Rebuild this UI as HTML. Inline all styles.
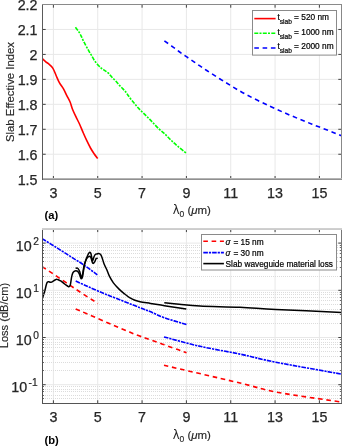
<!DOCTYPE html>
<html><head><meta charset="utf-8"><style>
html,body{margin:0;padding:0;background:#fff;overflow:hidden;}
svg{display:block;}
text{font-family:'Liberation Sans', Arial, Helvetica, sans-serif;fill:#262626;}
.tk{font-size:14.3px;stroke:#262626;stroke-width:0.25px;}
.tk.sp{font-size:10.2px;stroke-width:0.2px;}
.lb1{font-size:11.35px !important;}
.lb{font-size:11.1px;stroke:#262626;stroke-width:0.15px;}
.xl{font-size:11.5px;stroke:#262626;stroke-width:0.15px;}
.ab{font-size:11.2px;font-weight:bold;fill:#000;}
.lg{font-size:8.3px;fill:#000;stroke:#000;stroke-width:0.2px;}
.gr{font-family:'DejaVu Sans','Liberation Serif',serif;stroke-width:0;}
.gri{font-family:'Liberation Sans',sans-serif;font-style:italic;}
</style></head><body>
<svg width="342" height="447" viewBox="0 0 342 447">
<rect width="342" height="447" fill="#fff"/>
<line x1="53.40" y1="4.50" x2="53.40" y2="179.20" stroke="#e8e8e8"/>
<line x1="97.73" y1="4.50" x2="97.73" y2="179.20" stroke="#e8e8e8"/>
<line x1="142.07" y1="4.50" x2="142.07" y2="179.20" stroke="#e8e8e8"/>
<line x1="186.40" y1="4.50" x2="186.40" y2="179.20" stroke="#e8e8e8"/>
<line x1="230.74" y1="4.50" x2="230.74" y2="179.20" stroke="#e8e8e8"/>
<line x1="275.07" y1="4.50" x2="275.07" y2="179.20" stroke="#e8e8e8"/>
<line x1="319.40" y1="4.50" x2="319.40" y2="179.20" stroke="#e8e8e8"/>
<line x1="42.50" y1="29.46" x2="341.50" y2="29.46" stroke="#e8e8e8"/>
<line x1="42.50" y1="54.41" x2="341.50" y2="54.41" stroke="#e8e8e8"/>
<line x1="42.50" y1="79.37" x2="341.50" y2="79.37" stroke="#e8e8e8"/>
<line x1="42.50" y1="104.33" x2="341.50" y2="104.33" stroke="#e8e8e8"/>
<line x1="42.50" y1="129.29" x2="341.50" y2="129.29" stroke="#e8e8e8"/>
<line x1="42.50" y1="154.24" x2="341.50" y2="154.24" stroke="#e8e8e8"/>
<defs><clipPath id="ct"><rect x="42" y="4" width="300" height="176"/></clipPath><clipPath id="cb"><rect x="42" y="228" width="300" height="176"/></clipPath></defs>
<g clip-path="url(#ct)">
<path d="M42.40,58.70 C42.97,59.22 44.85,61.02 45.80,61.80 C46.75,62.58 46.93,62.35 48.10,63.40 C49.27,64.45 51.47,66.08 52.80,68.10 C54.13,70.12 54.98,73.03 56.10,75.50 C57.22,77.97 58.27,80.67 59.50,82.90 C60.73,85.13 62.28,86.78 63.50,88.90 C64.72,91.02 65.68,93.37 66.80,95.60 C67.92,97.83 69.28,100.12 70.20,102.30 C71.12,104.48 71.35,106.30 72.30,108.70 C73.25,111.10 74.70,114.15 75.90,116.70 C77.10,119.25 78.28,121.33 79.50,124.00 C80.72,126.67 81.98,129.92 83.20,132.70 C84.42,135.48 85.58,138.15 86.80,140.70 C88.02,143.25 89.28,145.82 90.50,148.00 C91.72,150.18 92.90,152.05 94.10,153.80 C95.30,155.55 97.10,157.72 97.70,158.50" fill="none" stroke="#ff0000" stroke-width="1.6" stroke-linejoin="round"/>
<path d="M75.40,27.30 C76.00,28.10 78.03,30.63 79.00,32.10 C79.97,33.57 80.47,34.62 81.20,36.10 C81.93,37.58 82.58,39.35 83.40,41.00 C84.22,42.65 85.20,44.35 86.10,46.00 C87.00,47.65 87.90,49.33 88.80,50.90 C89.70,52.47 90.55,53.78 91.50,55.40 C92.45,57.02 93.38,58.97 94.50,60.60 C95.62,62.23 97.00,63.88 98.20,65.20 C99.40,66.52 100.53,67.57 101.70,68.50 C102.87,69.43 104.03,69.98 105.20,70.80 C106.37,71.62 107.53,72.28 108.70,73.40 C109.87,74.52 111.03,76.23 112.20,77.50 C113.37,78.77 114.53,79.73 115.70,81.00 C116.87,82.27 118.03,83.83 119.20,85.10 C120.37,86.37 121.52,87.33 122.70,88.60 C123.88,89.87 125.38,91.55 126.30,92.70 C127.22,93.85 127.30,94.25 128.20,95.50 C129.10,96.75 130.53,98.73 131.70,100.20 C132.87,101.67 134.03,102.93 135.20,104.30 C136.37,105.67 137.33,106.93 138.70,108.40 C140.07,109.87 141.83,111.55 143.40,113.10 C144.97,114.65 146.55,116.15 148.10,117.70 C149.65,119.25 150.85,120.48 152.70,122.40 C154.55,124.32 157.12,127.22 159.20,129.20 C161.28,131.18 163.17,132.42 165.20,134.30 C167.23,136.18 169.35,138.53 171.40,140.50 C173.45,142.47 175.02,143.98 177.50,146.10 C179.98,148.22 184.83,152.02 186.30,153.20" fill="none" stroke="#00ff00" stroke-width="1.6" stroke-dasharray="4 1.2 2 1.3"/>
<path d="M164.40,40.80 C165.73,41.77 169.97,44.82 172.40,46.60 C174.83,48.38 176.80,49.90 179.00,51.50 C181.20,53.10 183.28,54.60 185.60,56.20 C187.92,57.80 190.58,59.52 192.90,61.10 C195.22,62.68 197.18,64.13 199.50,65.70 C201.82,67.27 202.47,67.72 206.80,70.50 C211.13,73.28 218.98,78.42 225.50,82.40 C232.02,86.38 238.48,90.42 245.90,94.40 C253.32,98.38 262.48,102.77 270.00,106.30 C277.52,109.83 283.98,112.62 291.00,115.60 C298.02,118.58 305.07,121.40 312.10,124.20 C319.13,127.00 328.28,130.45 333.20,132.40 C338.12,134.35 340.20,135.32 341.60,135.90" fill="none" stroke="#0000ff" stroke-width="1.6" stroke-dasharray="4.6 3.7"/>
</g>
<line x1="53.40" y1="179.20" x2="53.40" y2="176.00" stroke="#404040"/>
<line x1="53.40" y1="4.50" x2="53.40" y2="7.70" stroke="#404040"/>
<line x1="97.73" y1="179.20" x2="97.73" y2="176.00" stroke="#404040"/>
<line x1="97.73" y1="4.50" x2="97.73" y2="7.70" stroke="#404040"/>
<line x1="142.07" y1="179.20" x2="142.07" y2="176.00" stroke="#404040"/>
<line x1="142.07" y1="4.50" x2="142.07" y2="7.70" stroke="#404040"/>
<line x1="186.40" y1="179.20" x2="186.40" y2="176.00" stroke="#404040"/>
<line x1="186.40" y1="4.50" x2="186.40" y2="7.70" stroke="#404040"/>
<line x1="230.74" y1="179.20" x2="230.74" y2="176.00" stroke="#404040"/>
<line x1="230.74" y1="4.50" x2="230.74" y2="7.70" stroke="#404040"/>
<line x1="275.07" y1="179.20" x2="275.07" y2="176.00" stroke="#404040"/>
<line x1="275.07" y1="4.50" x2="275.07" y2="7.70" stroke="#404040"/>
<line x1="319.40" y1="179.20" x2="319.40" y2="176.00" stroke="#404040"/>
<line x1="319.40" y1="4.50" x2="319.40" y2="7.70" stroke="#404040"/>
<line x1="42.50" y1="29.46" x2="45.70" y2="29.46" stroke="#404040"/>
<line x1="341.50" y1="29.46" x2="338.30" y2="29.46" stroke="#404040"/>
<line x1="42.50" y1="54.41" x2="45.70" y2="54.41" stroke="#404040"/>
<line x1="341.50" y1="54.41" x2="338.30" y2="54.41" stroke="#404040"/>
<line x1="42.50" y1="79.37" x2="45.70" y2="79.37" stroke="#404040"/>
<line x1="341.50" y1="79.37" x2="338.30" y2="79.37" stroke="#404040"/>
<line x1="42.50" y1="104.33" x2="45.70" y2="104.33" stroke="#404040"/>
<line x1="341.50" y1="104.33" x2="338.30" y2="104.33" stroke="#404040"/>
<line x1="42.50" y1="129.29" x2="45.70" y2="129.29" stroke="#404040"/>
<line x1="341.50" y1="129.29" x2="338.30" y2="129.29" stroke="#404040"/>
<line x1="42.50" y1="154.24" x2="45.70" y2="154.24" stroke="#404040"/>
<line x1="341.50" y1="154.24" x2="338.30" y2="154.24" stroke="#404040"/>
<line x1="42.50" y1="4.00" x2="42.50" y2="180.00" stroke="#5a5a5a" shape-rendering="crispEdges"/>
<line x1="341.50" y1="4.00" x2="341.50" y2="180.00" stroke="#888888" shape-rendering="crispEdges"/>
<line x1="42.00" y1="4.50" x2="342.00" y2="4.50" stroke="#8a8a8a" shape-rendering="crispEdges"/>
<line x1="42.00" y1="178.50" x2="342.00" y2="178.50" stroke="#b4b4b4" shape-rendering="crispEdges"/>
<line x1="42.00" y1="179.50" x2="342.00" y2="179.50" stroke="#909090" shape-rendering="crispEdges"/>
<line x1="42.50" y1="178.00" x2="42.50" y2="180.00" stroke="#5a5a5a" shape-rendering="crispEdges"/>
<text x="37.5" y="9.80" text-anchor="end" class="tk">2.2</text>
<text x="37.5" y="34.76" text-anchor="end" class="tk">2.1</text>
<text x="37.5" y="59.71" text-anchor="end" class="tk">2</text>
<text x="37.5" y="84.67" text-anchor="end" class="tk">1.9</text>
<text x="37.5" y="109.63" text-anchor="end" class="tk">1.8</text>
<text x="37.5" y="134.59" text-anchor="end" class="tk">1.7</text>
<text x="37.5" y="159.54" text-anchor="end" class="tk">1.6</text>
<text x="37.5" y="184.50" text-anchor="end" class="tk">1.5</text>
<text x="53.40" y="197.80" text-anchor="middle" class="tk">3</text>
<text x="97.73" y="197.80" text-anchor="middle" class="tk">5</text>
<text x="142.07" y="197.80" text-anchor="middle" class="tk">7</text>
<text x="186.40" y="197.80" text-anchor="middle" class="tk">9</text>
<text x="230.74" y="197.80" text-anchor="middle" class="tk">11</text>
<text x="275.07" y="197.80" text-anchor="middle" class="tk">13</text>
<text x="319.40" y="197.80" text-anchor="middle" class="tk">15</text>
<text transform="translate(14.3,92) rotate(-90)" text-anchor="middle" class="lb lb1">Slab Effective Index</text>
<text x="44.6" y="219.2" class="ab">(a)</text>
<text x="191.8" y="213.7" text-anchor="middle" class="xl"><tspan class="gr">λ</tspan><tspan font-size="8.5" dy="3.2">0</tspan><tspan dy="-3.2"> (</tspan><tspan class="gri">μ</tspan>m)</text>
<rect x="252.5" y="10.5" width="84" height="44.6" fill="#fff" stroke="#8a8a8a" stroke-width="1"/>
<line x1="254.3" y1="18.6" x2="275.6" y2="18.6" stroke="#ff0000" stroke-width="1.6"/>
<text x="277.4" y="19.9" class="lg">t<tspan font-size="6.6" dy="4.1">slab</tspan><tspan dy="-4.1"> = 520 nm</tspan></text>
<line x1="254.3" y1="33.3" x2="275.6" y2="33.3" stroke="#00ff00" stroke-width="1.6" stroke-dasharray="4 1.2 2 1.3"/>
<text x="277.4" y="34.6" class="lg">t<tspan font-size="6.6" dy="4.1">slab</tspan><tspan dy="-4.1"> = 1000 nm</tspan></text>
<line x1="254.3" y1="48.0" x2="275.6" y2="48.0" stroke="#0000ff" stroke-width="1.6" stroke-dasharray="4.6 3.7"/>
<text x="277.4" y="49.3" class="lg">t<tspan font-size="6.6" dy="4.1">slab</tspan><tspan dy="-4.1"> = 2000 nm</tspan></text>
<line x1="53.40" y1="228.89" x2="53.40" y2="403.48" stroke="#e8e8e8"/>
<line x1="97.73" y1="228.89" x2="97.73" y2="403.48" stroke="#e8e8e8"/>
<line x1="142.07" y1="228.89" x2="142.07" y2="403.48" stroke="#e8e8e8"/>
<line x1="186.40" y1="228.89" x2="186.40" y2="403.48" stroke="#e8e8e8"/>
<line x1="230.74" y1="228.89" x2="230.74" y2="403.48" stroke="#e8e8e8"/>
<line x1="275.07" y1="228.89" x2="275.07" y2="403.48" stroke="#e8e8e8"/>
<line x1="319.40" y1="228.89" x2="319.40" y2="403.48" stroke="#e8e8e8"/>
<line x1="42.50" y1="403.50" x2="341.50" y2="403.50" stroke="#dcdcdc" shape-rendering="crispEdges" stroke-dasharray="1 1"/>
<line x1="42.50" y1="398.50" x2="341.50" y2="398.50" stroke="#dcdcdc" shape-rendering="crispEdges" stroke-dasharray="1 1"/>
<line x1="42.50" y1="395.50" x2="341.50" y2="395.50" stroke="#dcdcdc" shape-rendering="crispEdges" stroke-dasharray="1 1"/>
<line x1="42.50" y1="391.50" x2="341.50" y2="391.50" stroke="#dcdcdc" shape-rendering="crispEdges" stroke-dasharray="1 1"/>
<line x1="42.50" y1="389.50" x2="341.50" y2="389.50" stroke="#dcdcdc" shape-rendering="crispEdges" stroke-dasharray="1 1"/>
<line x1="42.50" y1="386.50" x2="341.50" y2="386.50" stroke="#dcdcdc" shape-rendering="crispEdges" stroke-dasharray="1 1"/>
<line x1="42.50" y1="370.50" x2="341.50" y2="370.50" stroke="#dcdcdc" shape-rendering="crispEdges" stroke-dasharray="1 1"/>
<line x1="42.50" y1="362.50" x2="341.50" y2="362.50" stroke="#dcdcdc" shape-rendering="crispEdges" stroke-dasharray="1 1"/>
<line x1="42.50" y1="356.50" x2="341.50" y2="356.50" stroke="#dcdcdc" shape-rendering="crispEdges" stroke-dasharray="1 1"/>
<line x1="42.50" y1="351.50" x2="341.50" y2="351.50" stroke="#dcdcdc" shape-rendering="crispEdges" stroke-dasharray="1 1"/>
<line x1="42.50" y1="347.50" x2="341.50" y2="347.50" stroke="#dcdcdc" shape-rendering="crispEdges" stroke-dasharray="1 1"/>
<line x1="42.50" y1="344.50" x2="341.50" y2="344.50" stroke="#dcdcdc" shape-rendering="crispEdges" stroke-dasharray="1 1"/>
<line x1="42.50" y1="342.50" x2="341.50" y2="342.50" stroke="#dcdcdc" shape-rendering="crispEdges" stroke-dasharray="1 1"/>
<line x1="42.50" y1="339.50" x2="341.50" y2="339.50" stroke="#dcdcdc" shape-rendering="crispEdges" stroke-dasharray="1 1"/>
<line x1="42.50" y1="323.50" x2="341.50" y2="323.50" stroke="#dcdcdc" shape-rendering="crispEdges" stroke-dasharray="1 1"/>
<line x1="42.50" y1="314.50" x2="341.50" y2="314.50" stroke="#dcdcdc" shape-rendering="crispEdges" stroke-dasharray="1 1"/>
<line x1="42.50" y1="309.50" x2="341.50" y2="309.50" stroke="#dcdcdc" shape-rendering="crispEdges" stroke-dasharray="1 1"/>
<line x1="42.50" y1="304.50" x2="341.50" y2="304.50" stroke="#dcdcdc" shape-rendering="crispEdges" stroke-dasharray="1 1"/>
<line x1="42.50" y1="300.50" x2="341.50" y2="300.50" stroke="#dcdcdc" shape-rendering="crispEdges" stroke-dasharray="1 1"/>
<line x1="42.50" y1="297.50" x2="341.50" y2="297.50" stroke="#dcdcdc" shape-rendering="crispEdges" stroke-dasharray="1 1"/>
<line x1="42.50" y1="294.50" x2="341.50" y2="294.50" stroke="#dcdcdc" shape-rendering="crispEdges" stroke-dasharray="1 1"/>
<line x1="42.50" y1="292.50" x2="341.50" y2="292.50" stroke="#dcdcdc" shape-rendering="crispEdges" stroke-dasharray="1 1"/>
<line x1="42.50" y1="276.50" x2="341.50" y2="276.50" stroke="#dcdcdc" shape-rendering="crispEdges" stroke-dasharray="1 1"/>
<line x1="42.50" y1="267.50" x2="341.50" y2="267.50" stroke="#dcdcdc" shape-rendering="crispEdges" stroke-dasharray="1 1"/>
<line x1="42.50" y1="261.50" x2="341.50" y2="261.50" stroke="#dcdcdc" shape-rendering="crispEdges" stroke-dasharray="1 1"/>
<line x1="42.50" y1="257.50" x2="341.50" y2="257.50" stroke="#dcdcdc" shape-rendering="crispEdges" stroke-dasharray="1 1"/>
<line x1="42.50" y1="253.50" x2="341.50" y2="253.50" stroke="#dcdcdc" shape-rendering="crispEdges" stroke-dasharray="1 1"/>
<line x1="42.50" y1="250.50" x2="341.50" y2="250.50" stroke="#dcdcdc" shape-rendering="crispEdges" stroke-dasharray="1 1"/>
<line x1="42.50" y1="247.50" x2="341.50" y2="247.50" stroke="#dcdcdc" shape-rendering="crispEdges" stroke-dasharray="1 1"/>
<line x1="42.50" y1="245.50" x2="341.50" y2="245.50" stroke="#dcdcdc" shape-rendering="crispEdges" stroke-dasharray="1 1"/>
<line x1="42.50" y1="228.50" x2="341.50" y2="228.50" stroke="#dcdcdc" shape-rendering="crispEdges" stroke-dasharray="1 1"/>
<line x1="42.50" y1="384.70" x2="341.50" y2="384.70" stroke="#e8e8e8"/>
<line x1="42.50" y1="337.50" x2="341.50" y2="337.50" stroke="#e8e8e8"/>
<line x1="42.50" y1="290.30" x2="341.50" y2="290.30" stroke="#e8e8e8"/>
<line x1="42.50" y1="243.10" x2="341.50" y2="243.10" stroke="#e8e8e8"/>
<g clip-path="url(#cb)">
<path d="M42.10,266.70 C43.70,267.73 45.88,269.02 51.70,272.90 C57.52,276.78 69.30,284.90 77.00,290.00 C84.70,295.10 94.42,301.25 97.90,303.50" fill="none" stroke="#ff0000" stroke-width="1.6" stroke-dasharray="4.6 3.7"/>
<path d="M75.70,308.90 C84.68,312.77 116.85,326.85 129.60,332.10 C142.35,337.35 144.17,337.48 152.20,340.40 C160.23,343.32 172.08,347.55 177.80,349.60 C183.52,351.65 185.05,352.18 186.50,352.70" fill="none" stroke="#ff0000" stroke-width="1.6" stroke-dasharray="4.6 3.7"/>
<path d="M164.00,365.30 C176.67,368.25 221.37,378.55 240.00,383.00 C258.63,387.45 258.87,388.82 275.80,392.00 C292.73,395.18 330.63,400.42 341.60,402.10" fill="none" stroke="#ff0000" stroke-width="1.6" stroke-dasharray="4.6 3.7"/>
<path d="M42.10,238.60 C44.42,240.05 51.35,244.37 56.00,247.30 C60.65,250.23 65.33,253.23 70.00,256.20 C74.67,259.17 79.45,262.00 84.00,265.10 C88.55,268.20 95.08,273.18 97.30,274.80" fill="none" stroke="#0000ff" stroke-width="1.6" stroke-dasharray="4.6 1.0 2.2 1.0"/>
<path d="M75.70,281.10 C77.42,281.87 82.52,284.15 86.00,285.70 C89.48,287.25 92.60,288.70 96.60,290.40 C100.60,292.10 102.77,293.02 110.00,295.90 C117.23,298.78 133.33,305.08 140.00,307.70 C146.67,310.32 145.90,309.92 150.00,311.60 C154.10,313.28 158.52,315.65 164.60,317.80 C170.68,319.95 182.85,323.38 186.50,324.50" fill="none" stroke="#0000ff" stroke-width="1.6" stroke-dasharray="4.6 1.0 2.2 1.0"/>
<path d="M164.00,336.90 C170.00,338.47 187.33,343.43 200.00,346.30 C212.67,349.17 227.37,351.45 240.00,354.10 C252.63,356.75 258.87,358.87 275.80,362.20 C292.73,365.53 330.63,372.12 341.60,374.10" fill="none" stroke="#0000ff" stroke-width="1.6" stroke-dasharray="4.6 1.0 2.2 1.0"/>
<path d="M42.50,298.40 C42.65,297.88 43.08,296.33 43.40,295.30 C43.72,294.27 44.08,293.25 44.40,292.20 C44.72,291.15 44.98,290.25 45.30,289.00 C45.62,287.75 45.93,285.85 46.30,284.70 C46.67,283.55 47.08,282.58 47.50,282.10 C47.92,281.62 48.33,281.77 48.80,281.80 C49.27,281.83 49.83,282.25 50.30,282.30 C50.77,282.35 51.12,282.28 51.60,282.10 C52.08,281.92 52.63,281.55 53.20,281.20 C53.77,280.85 54.43,280.32 55.00,280.00 C55.57,279.68 56.07,279.33 56.60,279.30 C57.13,279.27 57.63,279.58 58.20,279.80 C58.77,280.02 59.52,280.38 60.00,280.60 C60.48,280.82 60.33,280.53 61.10,281.10 C61.87,281.67 63.53,283.18 64.60,284.00 C65.67,284.82 66.73,285.55 67.50,286.00 C68.27,286.45 68.72,286.95 69.20,286.70 C69.68,286.45 70.00,286.08 70.40,284.50 C70.80,282.92 71.22,279.10 71.60,277.20 C71.98,275.30 72.27,274.07 72.70,273.10 C73.13,272.13 73.67,271.78 74.20,271.40 C74.73,271.02 75.32,270.80 75.90,270.80 C76.48,270.80 77.15,270.92 77.70,271.40 C78.25,271.88 78.77,272.83 79.20,273.70 C79.63,274.57 79.97,275.77 80.30,276.60 C80.63,277.43 80.85,278.60 81.20,278.70 C81.55,278.80 82.02,278.52 82.40,277.20 C82.78,275.88 83.13,272.93 83.50,270.80 C83.87,268.67 84.18,266.20 84.60,264.40 C85.02,262.60 85.52,261.15 86.00,260.00 C86.48,258.85 86.85,258.13 87.50,257.50 C88.15,256.87 89.28,256.03 89.90,256.20 C90.52,256.37 90.72,257.32 91.20,258.50 C91.68,259.68 92.23,262.72 92.80,263.30 C93.37,263.88 94.07,262.75 94.60,262.00 C95.13,261.25 95.48,259.43 96.00,258.80 C96.52,258.17 97.42,258.30 97.70,258.20" fill="none" stroke="#000" stroke-width="1.5" stroke-linejoin="round"/>
<path d="M75.60,268.30 C75.90,268.27 76.90,267.93 77.40,268.10 C77.90,268.27 78.22,268.72 78.60,269.30 C78.98,269.88 79.37,270.67 79.70,271.60 C80.03,272.53 80.33,273.92 80.60,274.90 C80.87,275.88 81.05,277.23 81.30,277.50 C81.55,277.77 81.82,277.42 82.10,276.50 C82.38,275.58 82.68,273.75 83.00,272.00 C83.32,270.25 83.58,267.85 84.00,266.00 C84.42,264.15 84.95,262.53 85.50,260.90 C86.05,259.27 86.72,257.53 87.30,256.20 C87.88,254.87 88.52,253.53 89.00,252.90 C89.48,252.27 89.85,252.18 90.20,252.40 C90.55,252.62 90.82,253.18 91.10,254.20 C91.38,255.22 91.70,257.45 91.90,258.50 C92.10,259.55 92.12,260.25 92.30,260.50 C92.48,260.75 92.70,260.67 93.00,260.00 C93.30,259.33 93.68,257.45 94.10,256.50 C94.52,255.55 95.02,254.72 95.50,254.30 C95.98,253.88 96.45,254.12 97.00,254.00 C97.55,253.88 98.20,253.50 98.80,253.60 C99.40,253.70 100.07,253.97 100.60,254.60 C101.13,255.23 101.42,255.83 102.00,257.40 C102.58,258.97 103.32,261.98 104.10,264.00 C104.88,266.02 105.82,267.47 106.70,269.50 C107.58,271.53 108.28,273.97 109.40,276.20 C110.52,278.43 111.83,280.78 113.40,282.90 C114.97,285.02 117.00,287.12 118.80,288.90 C120.60,290.68 122.40,292.13 124.20,293.60 C126.00,295.07 127.82,296.60 129.60,297.70 C131.38,298.80 133.17,299.53 134.90,300.20 C136.63,300.87 137.40,301.17 140.00,301.70 C142.60,302.23 147.00,302.83 150.50,303.40 C154.00,303.97 157.58,304.55 161.00,305.10 C164.42,305.65 166.78,306.03 171.00,306.70 C175.22,307.37 183.75,308.70 186.30,309.10" fill="none" stroke="#000" stroke-width="1.5" stroke-linejoin="round"/>
<path d="M164.30,302.80 C166.78,303.05 173.25,303.75 179.20,304.30 C185.15,304.85 189.87,305.60 200.00,306.10 C210.13,306.60 227.37,306.75 240.00,307.30 C252.63,307.85 258.87,308.55 275.80,309.40 C292.73,310.25 330.63,311.90 341.60,312.40" fill="none" stroke="#000" stroke-width="1.5" stroke-linejoin="round"/>
</g>
<line x1="53.40" y1="403.48" x2="53.40" y2="400.28" stroke="#404040"/>
<line x1="53.40" y1="228.89" x2="53.40" y2="232.09" stroke="#404040"/>
<line x1="97.73" y1="403.48" x2="97.73" y2="400.28" stroke="#404040"/>
<line x1="97.73" y1="228.89" x2="97.73" y2="232.09" stroke="#404040"/>
<line x1="142.07" y1="403.48" x2="142.07" y2="400.28" stroke="#404040"/>
<line x1="142.07" y1="228.89" x2="142.07" y2="232.09" stroke="#404040"/>
<line x1="186.40" y1="403.48" x2="186.40" y2="400.28" stroke="#404040"/>
<line x1="186.40" y1="228.89" x2="186.40" y2="232.09" stroke="#404040"/>
<line x1="230.74" y1="403.48" x2="230.74" y2="400.28" stroke="#404040"/>
<line x1="230.74" y1="228.89" x2="230.74" y2="232.09" stroke="#404040"/>
<line x1="275.07" y1="403.48" x2="275.07" y2="400.28" stroke="#404040"/>
<line x1="275.07" y1="228.89" x2="275.07" y2="232.09" stroke="#404040"/>
<line x1="319.40" y1="403.48" x2="319.40" y2="400.28" stroke="#404040"/>
<line x1="319.40" y1="228.89" x2="319.40" y2="232.09" stroke="#404040"/>
<line x1="42.50" y1="403.50" x2="44.20" y2="403.50" stroke="#686868" shape-rendering="crispEdges"/>
<line x1="341.50" y1="403.50" x2="339.80" y2="403.50" stroke="#686868" shape-rendering="crispEdges"/>
<line x1="42.50" y1="398.50" x2="44.20" y2="398.50" stroke="#686868" shape-rendering="crispEdges"/>
<line x1="341.50" y1="398.50" x2="339.80" y2="398.50" stroke="#686868" shape-rendering="crispEdges"/>
<line x1="42.50" y1="395.50" x2="44.20" y2="395.50" stroke="#686868" shape-rendering="crispEdges"/>
<line x1="341.50" y1="395.50" x2="339.80" y2="395.50" stroke="#686868" shape-rendering="crispEdges"/>
<line x1="42.50" y1="391.50" x2="44.20" y2="391.50" stroke="#686868" shape-rendering="crispEdges"/>
<line x1="341.50" y1="391.50" x2="339.80" y2="391.50" stroke="#686868" shape-rendering="crispEdges"/>
<line x1="42.50" y1="389.50" x2="44.20" y2="389.50" stroke="#686868" shape-rendering="crispEdges"/>
<line x1="341.50" y1="389.50" x2="339.80" y2="389.50" stroke="#686868" shape-rendering="crispEdges"/>
<line x1="42.50" y1="386.50" x2="44.20" y2="386.50" stroke="#686868" shape-rendering="crispEdges"/>
<line x1="341.50" y1="386.50" x2="339.80" y2="386.50" stroke="#686868" shape-rendering="crispEdges"/>
<line x1="42.50" y1="384.70" x2="45.70" y2="384.70" stroke="#404040"/>
<line x1="341.50" y1="384.70" x2="338.30" y2="384.70" stroke="#404040"/>
<line x1="42.50" y1="370.50" x2="44.20" y2="370.50" stroke="#686868" shape-rendering="crispEdges"/>
<line x1="341.50" y1="370.50" x2="339.80" y2="370.50" stroke="#686868" shape-rendering="crispEdges"/>
<line x1="42.50" y1="362.50" x2="44.20" y2="362.50" stroke="#686868" shape-rendering="crispEdges"/>
<line x1="341.50" y1="362.50" x2="339.80" y2="362.50" stroke="#686868" shape-rendering="crispEdges"/>
<line x1="42.50" y1="356.50" x2="44.20" y2="356.50" stroke="#686868" shape-rendering="crispEdges"/>
<line x1="341.50" y1="356.50" x2="339.80" y2="356.50" stroke="#686868" shape-rendering="crispEdges"/>
<line x1="42.50" y1="351.50" x2="44.20" y2="351.50" stroke="#686868" shape-rendering="crispEdges"/>
<line x1="341.50" y1="351.50" x2="339.80" y2="351.50" stroke="#686868" shape-rendering="crispEdges"/>
<line x1="42.50" y1="347.50" x2="44.20" y2="347.50" stroke="#686868" shape-rendering="crispEdges"/>
<line x1="341.50" y1="347.50" x2="339.80" y2="347.50" stroke="#686868" shape-rendering="crispEdges"/>
<line x1="42.50" y1="344.50" x2="44.20" y2="344.50" stroke="#686868" shape-rendering="crispEdges"/>
<line x1="341.50" y1="344.50" x2="339.80" y2="344.50" stroke="#686868" shape-rendering="crispEdges"/>
<line x1="42.50" y1="342.50" x2="44.20" y2="342.50" stroke="#686868" shape-rendering="crispEdges"/>
<line x1="341.50" y1="342.50" x2="339.80" y2="342.50" stroke="#686868" shape-rendering="crispEdges"/>
<line x1="42.50" y1="339.50" x2="44.20" y2="339.50" stroke="#686868" shape-rendering="crispEdges"/>
<line x1="341.50" y1="339.50" x2="339.80" y2="339.50" stroke="#686868" shape-rendering="crispEdges"/>
<line x1="42.50" y1="337.50" x2="45.70" y2="337.50" stroke="#404040"/>
<line x1="341.50" y1="337.50" x2="338.30" y2="337.50" stroke="#404040"/>
<line x1="42.50" y1="323.50" x2="44.20" y2="323.50" stroke="#686868" shape-rendering="crispEdges"/>
<line x1="341.50" y1="323.50" x2="339.80" y2="323.50" stroke="#686868" shape-rendering="crispEdges"/>
<line x1="42.50" y1="314.50" x2="44.20" y2="314.50" stroke="#686868" shape-rendering="crispEdges"/>
<line x1="341.50" y1="314.50" x2="339.80" y2="314.50" stroke="#686868" shape-rendering="crispEdges"/>
<line x1="42.50" y1="309.50" x2="44.20" y2="309.50" stroke="#686868" shape-rendering="crispEdges"/>
<line x1="341.50" y1="309.50" x2="339.80" y2="309.50" stroke="#686868" shape-rendering="crispEdges"/>
<line x1="42.50" y1="304.50" x2="44.20" y2="304.50" stroke="#686868" shape-rendering="crispEdges"/>
<line x1="341.50" y1="304.50" x2="339.80" y2="304.50" stroke="#686868" shape-rendering="crispEdges"/>
<line x1="42.50" y1="300.50" x2="44.20" y2="300.50" stroke="#686868" shape-rendering="crispEdges"/>
<line x1="341.50" y1="300.50" x2="339.80" y2="300.50" stroke="#686868" shape-rendering="crispEdges"/>
<line x1="42.50" y1="297.50" x2="44.20" y2="297.50" stroke="#686868" shape-rendering="crispEdges"/>
<line x1="341.50" y1="297.50" x2="339.80" y2="297.50" stroke="#686868" shape-rendering="crispEdges"/>
<line x1="42.50" y1="294.50" x2="44.20" y2="294.50" stroke="#686868" shape-rendering="crispEdges"/>
<line x1="341.50" y1="294.50" x2="339.80" y2="294.50" stroke="#686868" shape-rendering="crispEdges"/>
<line x1="42.50" y1="292.50" x2="44.20" y2="292.50" stroke="#686868" shape-rendering="crispEdges"/>
<line x1="341.50" y1="292.50" x2="339.80" y2="292.50" stroke="#686868" shape-rendering="crispEdges"/>
<line x1="42.50" y1="290.30" x2="45.70" y2="290.30" stroke="#404040"/>
<line x1="341.50" y1="290.30" x2="338.30" y2="290.30" stroke="#404040"/>
<line x1="42.50" y1="276.50" x2="44.20" y2="276.50" stroke="#686868" shape-rendering="crispEdges"/>
<line x1="341.50" y1="276.50" x2="339.80" y2="276.50" stroke="#686868" shape-rendering="crispEdges"/>
<line x1="42.50" y1="267.50" x2="44.20" y2="267.50" stroke="#686868" shape-rendering="crispEdges"/>
<line x1="341.50" y1="267.50" x2="339.80" y2="267.50" stroke="#686868" shape-rendering="crispEdges"/>
<line x1="42.50" y1="261.50" x2="44.20" y2="261.50" stroke="#686868" shape-rendering="crispEdges"/>
<line x1="341.50" y1="261.50" x2="339.80" y2="261.50" stroke="#686868" shape-rendering="crispEdges"/>
<line x1="42.50" y1="257.50" x2="44.20" y2="257.50" stroke="#686868" shape-rendering="crispEdges"/>
<line x1="341.50" y1="257.50" x2="339.80" y2="257.50" stroke="#686868" shape-rendering="crispEdges"/>
<line x1="42.50" y1="253.50" x2="44.20" y2="253.50" stroke="#686868" shape-rendering="crispEdges"/>
<line x1="341.50" y1="253.50" x2="339.80" y2="253.50" stroke="#686868" shape-rendering="crispEdges"/>
<line x1="42.50" y1="250.50" x2="44.20" y2="250.50" stroke="#686868" shape-rendering="crispEdges"/>
<line x1="341.50" y1="250.50" x2="339.80" y2="250.50" stroke="#686868" shape-rendering="crispEdges"/>
<line x1="42.50" y1="247.50" x2="44.20" y2="247.50" stroke="#686868" shape-rendering="crispEdges"/>
<line x1="341.50" y1="247.50" x2="339.80" y2="247.50" stroke="#686868" shape-rendering="crispEdges"/>
<line x1="42.50" y1="245.50" x2="44.20" y2="245.50" stroke="#686868" shape-rendering="crispEdges"/>
<line x1="341.50" y1="245.50" x2="339.80" y2="245.50" stroke="#686868" shape-rendering="crispEdges"/>
<line x1="42.50" y1="243.10" x2="45.70" y2="243.10" stroke="#404040"/>
<line x1="341.50" y1="243.10" x2="338.30" y2="243.10" stroke="#404040"/>
<line x1="42.50" y1="228.50" x2="44.20" y2="228.50" stroke="#686868" shape-rendering="crispEdges"/>
<line x1="341.50" y1="228.50" x2="339.80" y2="228.50" stroke="#686868" shape-rendering="crispEdges"/>
<line x1="42.50" y1="228.00" x2="42.50" y2="404.00" stroke="#505050" shape-rendering="crispEdges"/>
<line x1="341.50" y1="228.00" x2="341.50" y2="404.00" stroke="#777777" shape-rendering="crispEdges"/>
<line x1="42.00" y1="228.50" x2="342.00" y2="228.50" stroke="#d0d0d0" shape-rendering="crispEdges"/>
<line x1="42.00" y1="229.50" x2="342.00" y2="229.50" stroke="#cccccc" shape-rendering="crispEdges"/>
<line x1="42.00" y1="403.50" x2="342.00" y2="403.50" stroke="#555555" shape-rendering="crispEdges"/>
<text x="31.70" y="250.60" text-anchor="end" class="tk">10</text>
<text x="33.30" y="244.50" class="tk sp">2</text>
<text x="31.70" y="297.80" text-anchor="end" class="tk">10</text>
<text x="33.30" y="291.70" class="tk sp">1</text>
<text x="31.70" y="345.00" text-anchor="end" class="tk">10</text>
<text x="33.30" y="338.90" class="tk sp">0</text>
<text x="27.20" y="392.20" text-anchor="end" class="tk">10</text>
<text x="28.60" y="386.10" class="tk sp">-1</text>
<text x="53.40" y="421.90" text-anchor="middle" class="tk">3</text>
<text x="97.73" y="421.90" text-anchor="middle" class="tk">5</text>
<text x="142.07" y="421.90" text-anchor="middle" class="tk">7</text>
<text x="186.40" y="421.90" text-anchor="middle" class="tk">9</text>
<text x="230.74" y="421.90" text-anchor="middle" class="tk">11</text>
<text x="275.07" y="421.90" text-anchor="middle" class="tk">13</text>
<text x="319.40" y="421.90" text-anchor="middle" class="tk">15</text>
<text transform="translate(8,315.6) rotate(-90)" text-anchor="middle" class="lb">Loss (dB/cm)</text>
<text x="44.5" y="444.3" class="ab">(b)</text>
<text x="191.8" y="438.7" text-anchor="middle" class="xl"><tspan class="gr">λ</tspan><tspan font-size="8.5" dy="3.2">0</tspan><tspan dy="-3.2"> (</tspan><tspan class="gri">μ</tspan>m)</text>
<rect x="201.5" y="234.5" width="135" height="35.5" fill="#fff" stroke="#8a8a8a" stroke-width="1"/>
<line x1="203.3" y1="241.3" x2="223.9" y2="241.3" stroke="#ff0000" stroke-width="1.6" stroke-dasharray="4.6 3.7"/>
<text x="225.5" y="245.1" class="lg"><tspan class="gri">σ</tspan><tspan dx="0.6"> = 15 nm</tspan></text>
<line x1="203.3" y1="252.6" x2="223.9" y2="252.6" stroke="#0000ff" stroke-width="1.6" stroke-dasharray="4.6 1.0 2.2 1.0"/>
<text x="225.5" y="256.4" class="lg"><tspan class="gri">σ</tspan><tspan dx="0.6"> = 30 nm</tspan></text>
<line x1="203.3" y1="263.6" x2="223.9" y2="263.6" stroke="#000" stroke-width="1.6"/>
<text x="225.5" y="267.4" class="lg">Slab waveguide material loss</text>
</svg>
</body></html>
